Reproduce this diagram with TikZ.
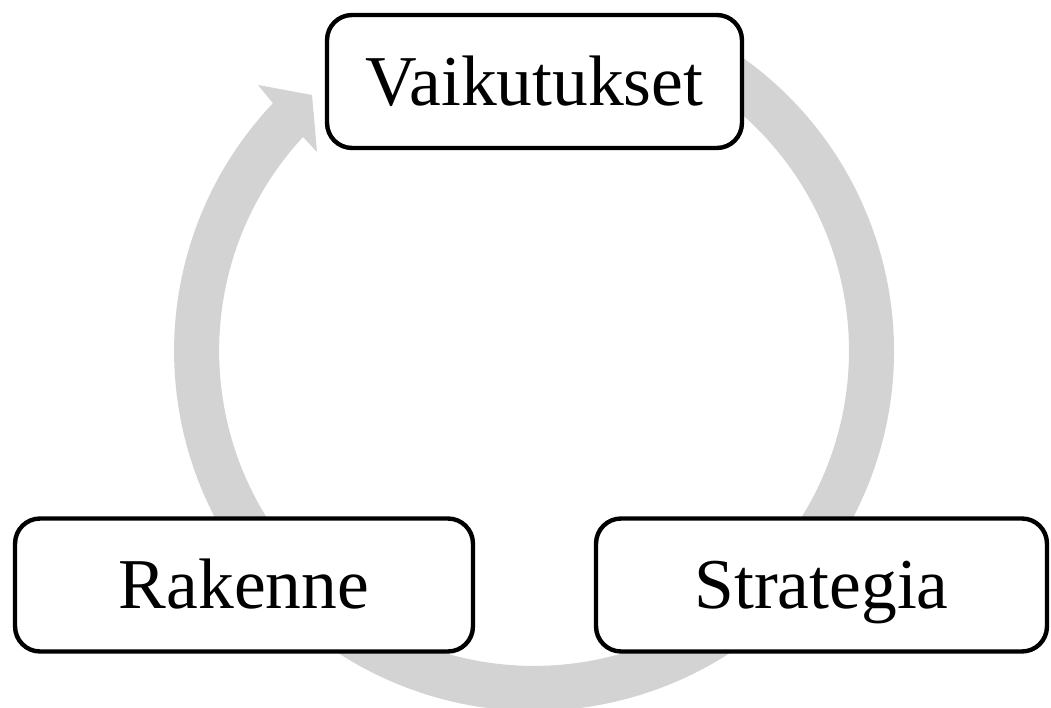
\documentclass[tikz,border=0pt]{standalone}
\usepackage{fontspec}
\setmainfont{Liberation Serif}
\definecolor{ringgray}{RGB}{211,211,211}
\begin{document}
\begin{tikzpicture}[x=0.02cm,y=0.02cm,
    stage/.style={draw,line width=2.5pt,rounded corners=0.5cm,fill=white,
      minimum height=2.66cm,inner sep=0pt,text height=26.9pt,text depth=0pt,
      font=\fontsize{40.7}{49}\selectfont}]
    %\draw [help lines] (0,0) grid[step=50] (1051,707);
    \useasboundingbox (0,0) rectangle (1051,707);
    \coordinate (ring) at (534,356);

    \fill[ringgray] ([shift={(ring)}]65:7.2cm) arc[start angle=65,end angle=-223.5,radius=7.2cm]
      -- (258,622) -- (312,612) -- (317,555) -- (303,570)
      arc[start angle=-222.8,end angle=65,radius=6.3cm] -- cycle;

    \node[stage,minimum width=8.3cm] (vaikutukset) at (534.5,625.5) {Vaikutukset};
    \node[stage,minimum width=9.16cm] (rakenne) at (244,122) {Rakenne};
    \node[stage,minimum width=9.02cm] (strategia) at (821.5,122) {Strategia};
\end{tikzpicture}
\end{document}
